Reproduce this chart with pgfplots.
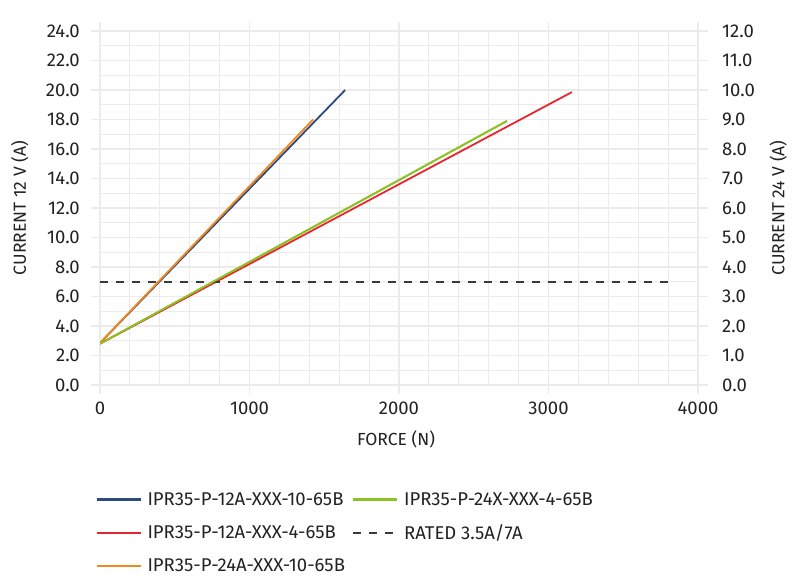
\documentclass[border=0pt]{standalone}
\usepackage{fontspec}
\setmainfont{Fira Sans}
\usepackage{pgfplots}
\pgfplotsset{compat=1.18}
\definecolor{cblue}{HTML}{2B4C7E}
\definecolor{cred}{HTML}{E8262F}
\definecolor{corange}{HTML}{F5871F}
\definecolor{cgreen}{HTML}{8CC224}
\definecolor{cdash}{HTML}{3A3A3A}
\definecolor{cgrid}{HTML}{EBEBEB}
\definecolor{ctext}{HTML}{222222}
\begin{document}
\begin{tikzpicture}
\useasboundingbox (0,0) rectangle (797pt,579pt);
\begin{axis}[
  at={(100pt,194pt)}, anchor=south west, scale only axis,
  width=598pt, height=354pt,
  xmin=0, xmax=4000, ymin=0, ymax=24,
  xtick={0,1000,2000,3000,4000}, minor x tick num=4,
  ytick={0,2,...,24}, minor y tick num=1,
  grid=both,
  major grid style={cgrid, line width=1.5pt},
  minor grid style={cgrid, line width=1pt},
  axis line style={draw=none},
  tick align=outside, major tick length=9pt, minor tick length=0pt,
  major tick style={cgrid, line width=1.5pt},
  font=\fontsize{17.5}{20}\selectfont\color{ctext},
  tick label style={font=\fontsize{18.5}{20}\selectfont\color{ctext}},
  /pgf/number format/assume math mode=true,
  xticklabel style={inner sep=0pt, anchor=center, yshift=-14pt, /pgf/number format/.cd, set thousands separator={}, 1000 sep={}},
  yticklabel style={inner sep=0pt, anchor=east, xshift=-11pt, /pgf/number format/.cd, fixed, fixed zerofill, precision=1},
  xlabel={FORCE (N)},
  xlabel style={at={(axis description cs:0.495,-0.155)}, anchor=center},
  ylabel={CURRENT 12 V (A)},
  ylabel style={at={(axis description cs:-0.134,0.5)}, anchor=center, rotate=0},
  legend columns=2,
  legend cell align=left,
  legend style={draw=none, fill=none, at={(axis description cs:-0.008,-0.297)}, anchor=north west,
    font=\fontsize{18.5}{21}\selectfont\color{ctext},
    row sep=14pt, inner sep=0pt,
    /tikz/every even column/.append style={column sep=5pt}},
  legend image code/.code={\draw[#1, line width=2.4pt] (0pt,0pt) -- (44pt,0pt); \path (48pt,0pt);},
]
\addplot[cblue, line width=1.8pt] coordinates {(0,2.85) (1640,20.0)};
\addlegendentry{IPR35-P-12A-XXX-10-65B}
\addplot[cgreen, line width=1.8pt] coordinates {(0,2.8) (2722,17.9)};
\addlegendentry{IPR35-P-24X-XXX-4-65B}
\addplot[cred, line width=1.8pt] coordinates {(0,2.8) (3157,19.86)};
\addlegendentry{IPR35-P-12A-XXX-4-65B}
\addplot[cdash, line width=1.8pt, dash pattern=on 8pt off 8pt] coordinates {(0,7) (3800,7)};
\addlegendentry{RATED 3.5A/7A}
\addplot[corange, line width=1.8pt] coordinates {(0,2.85) (1425,18.0)};
\addlegendentry{IPR35-P-24A-XXX-10-65B}
\addplot[cgreen, line width=1.8pt, forget plot] coordinates {(0,2.8) (2722,17.9)};
\end{axis}
\begin{axis}[
  at={(100pt,194pt)}, anchor=south west, scale only axis,
  width=598pt, height=354pt,
  xmin=0, xmax=4000, ymin=0, ymax=12,
  axis x line=none,
  axis y line*=right,
  axis line style={draw=none},
  ytick={0,1,...,12},
  tick align=outside, major tick length=10pt,
  major tick style={cgrid, line width=1.5pt},
  font=\fontsize{17.5}{20}\selectfont\color{ctext},
  tick label style={font=\fontsize{18.5}{20}\selectfont\color{ctext}},
  /pgf/number format/assume math mode=true,
  yticklabel style={inner sep=0pt, anchor=west, xshift=14pt, /pgf/number format/.cd, fixed, fixed zerofill, precision=1},
  ylabel={CURRENT 24 V (A)},
  ylabel style={at={(axis description cs:1.134,0.5)}, anchor=center, rotate=0},
]
\end{axis}
\end{tikzpicture}
\end{document}
